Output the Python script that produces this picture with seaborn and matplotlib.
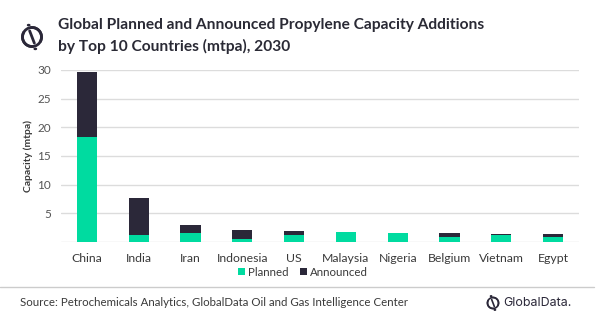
import matplotlib
matplotlib.use("Agg")
import matplotlib.pyplot as plt
import seaborn as sns
import numpy as np
import pandas as pd
from matplotlib.patches import Patch, Circle, Arc
from matplotlib.lines import Line2D

countries = ["China", "India", "Iran", "Indonesia", "US", "Malaysia",
             "Nigeria", "Belgium", "Vietnam", "Egypt"]
planned = [18.3, 1.2, 1.5, 0.5, 1.3, 1.8, 1.65, 0.8, 1.15, 0.95]
announced = [11.3, 6.5, 1.45, 1.55, 0.6, 0.0, 0.0, 0.7, 0.3, 0.45]
y_ticks = [0, 5, 10, 15, 20, 25, 30]

GREEN = "#00DBA0"
NAVY = "#2B2839"
GRID = "#DCDCDC"
TEXT = "#3A3A3A"

sns.set_theme(style="white")
plt.rcParams["font.family"] = ["Lato", "DejaVu Sans"]

df = pd.DataFrame({"country": countries, "planned": planned,
                   "announced": announced})
df["total"] = df["planned"] + df["announced"]

fig = plt.figure(figsize=(6.0, 3.21), dpi=100)
ax = fig.add_axes([61 / 600, 1 - 242 / 321, (579 - 61) / 600, (242 - 70) / 321])

sns.barplot(data=df, x="country", y="total", color=NAVY, width=0.39,
            saturation=1, linewidth=0, ax=ax, zorder=3)
sns.barplot(data=df, x="country", y="planned", color=GREEN, width=0.39,
            saturation=1, linewidth=0, ax=ax, zorder=4)

ax.set_xlim(-0.5, len(countries) - 0.5)
ax.set_ylim(0, 30)
ax.set_yticks(y_ticks)
ax.set_yticklabels(["" if t == 0 else str(t) for t in y_ticks])
ax.yaxis.grid(True, color=GRID, linewidth=1, zorder=0)
ax.set_axisbelow(True)
for s in ax.spines.values():
    s.set_visible(False)
ax.tick_params(axis="y", length=0, pad=7, labelsize=8.5, labelcolor="#555555")
ax.tick_params(axis="x", length=0, pad=8, labelsize=8.8, labelcolor=TEXT)
ax.set_xlabel("")
ax.set_ylabel("Capacity (mtpa)", fontsize=7.5, fontweight="bold",
              color=TEXT, labelpad=3)

# Legend
handles = [Patch(facecolor=GREEN, edgecolor="none", label="Planned"),
           Patch(facecolor=NAVY, edgecolor="none", label="Announced")]
fig.legend(handles=handles, loc="center", bbox_to_anchor=(0.505, 1 - 272 / 321),
           ncol=2, frameon=False, fontsize=8.3, handlelength=0.6,
           handleheight=0.6, handletextpad=0.3, columnspacing=1.0,
           labelcolor=TEXT)

# Title
fig.text(58 / 600, 1 - 25 / 321,
         "Global Planned and Announced Propylene Capacity Additions",
         fontsize=11.2, fontweight="bold", color="#2A2A35", va="center")
fig.text(58 / 600, 1 - 46 / 321, "by Top 10 Countries (mtpa), 2030",
         fontsize=11.2, fontweight="bold", color="#2A2A35", va="center")


def draw_logo(cx, cy, r, lw):
    # circle split by a diagonal stroke, with a dot at each end
    W, H = fig.get_size_inches() * fig.dpi
    t = fig.transFigure
    sx, sy = 1 / W, 1 / H
    fig.add_artist(Arc((cx * sx, 1 - cy * sy), 2 * r * sx, 2 * r * sy,
                       theta1=130, theta2=95, lw=lw, color=NAVY, transform=t))
    fig.add_artist(Arc((cx * sx, 1 - cy * sy), 2 * r * sx, 2 * r * sy,
                       theta1=310, theta2=275, lw=lw, color=NAVY, transform=t))
    fig.add_artist(Line2D([(cx - 0.25 * r) * sx, (cx + 0.25 * r) * sx],
                          [1 - (cy - 0.65 * r) * sy, 1 - (cy + 0.65 * r) * sy],
                          lw=lw, color=NAVY, transform=t))
    for dx, dy in [(-0.35, -1.25), (0.35, 1.25)]:
        fig.add_artist(Circle(((cx + dx * r) * sx, 1 - (cy + dy * r) * sy),
                              0.12 * r * sx, color=NAVY, transform=t))


draw_logo(32, 37, 9.5, 2.0)

# Footer
fig.add_artist(Line2D([0.0, 0.99], [1 - 287 / 321, 1 - 287 / 321],
                      color="#CCCCCC", lw=1, transform=fig.transFigure))
fig.text(20 / 600, 1 - 303 / 321,
         "Source: Petrochemicals Analytics, GlobalData Oil and Gas Intelligence Center",
         fontsize=8.3, color=TEXT, va="center")
draw_logo(493, 303, 5.5, 1.2)
fig.text(503 / 600, 1 - 303 / 321, "GlobalData.", fontsize=9,
         color=NAVY, va="center", family=["Inter", "DejaVu Sans"])

fig.savefig("out.png", dpi=100)
